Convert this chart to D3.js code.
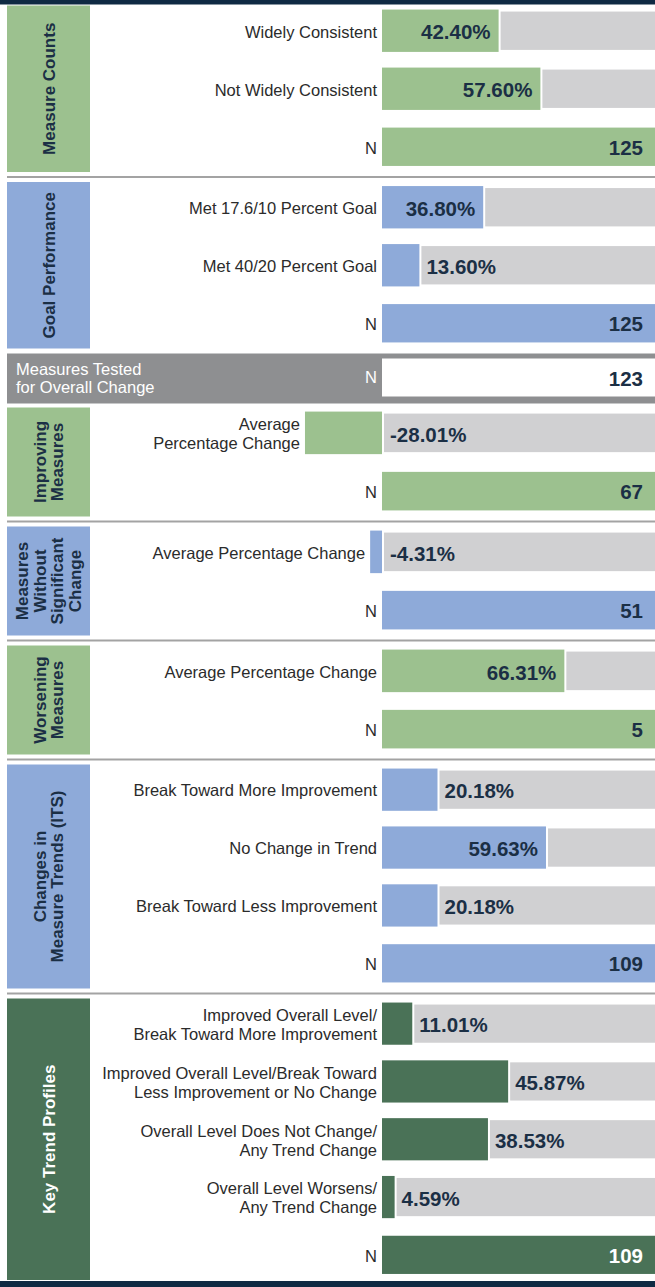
<!DOCTYPE html>
<html>
<head>
<meta charset="utf-8">
<script src="https://cdn.jsdelivr.net/npm/d3@7"></script>
<style>
  body { margin: 0; background: #fff; }
  svg { display: block; }
</style>
</head>
<body>
<div id="chart"></div>
<script>
// ---- data ----
const sectionTitles = [
  "Measure Counts",
  "Goal Performance",
  "Improving\nMeasures",
  "Measures\nWithout\nSignificant\nChange",
  "Worsening\nMeasures",
  "Changes in\nMeasure Trends (ITS)",
  "Key Trend Profiles"
];
const sectionColors = ["green", "blue", "green", "blue", "green", "blue", "dark"];

const countLabels = ["Widely Consistent", "Not Widely Consistent"];
const countValues = [42.40, 57.60];
const countN = 125;

const goalLabels = ["Met 17.6/10 Percent Goal", "Met 40/20 Percent Goal"];
const goalValues = [36.80, 13.60];
const goalN = 125;

const testedTitle = "Measures Tested\nfor Overall Change";
const testedN = 123;

const improvingLabels = ["Average\nPercentage Change"];
const improvingValues = [-28.01];
const improvingN = 67;

const noChangeLabels = ["Average Percentage Change"];
const noChangeValues = [-4.31];
const noChangeN = 51;

const worseningLabels = ["Average Percentage Change"];
const worseningValues = [66.31];
const worseningN = 5;

const trendLabels = ["Break Toward More Improvement", "No Change in Trend", "Break Toward Less Improvement"];
const trendValues = [20.18, 59.63, 20.18];
const trendN = 109;

const profileLabels = [
  "Improved Overall Level/\nBreak Toward More Improvement",
  "Improved Overall Level/Break Toward\nLess Improvement or No Change",
  "Overall Level Does Not Change/\nAny Trend Change",
  "Overall Level Worsens/\nAny Trend Change"
];
const profileValues = [11.01, 45.87, 38.53, 4.59];
const profileN = 109;

// ---- styling ----
const palette = {
  green: { fill: "#9cc18f", title: "#1b2f45", nText: "#1b2f45" },
  blue:  { fill: "#8eaad9", title: "#1b2f45", nText: "#1b2f45" },
  dark:  { fill: "#4a7257", title: "#ffffff", nText: "#ffffff" }
};
const NAVY = "#0f2a43";
const TRACK = "#d0d0d2";
const VALUE_TEXT = "#1b2f45";
const LABEL_TEXT = "#2b2b2b";
const FONT = "'Liberation Sans', Arial, Helvetica, sans-serif";

const W = 655, H = 1287;
const ROW = 57.5;
const boxHeight = n => n * ROW - 6;

const svg = d3.select("#chart").append("svg")
  .attr("width", W).attr("height", H)
  .attr("font-family", FONT);

svg.append("rect").attr("width", W).attr("height", H).attr("fill", "#fff");
svg.append("rect").attr("x", 0).attr("y", 0).attr("width", W).attr("height", 4.5).attr("fill", NAVY);
svg.append("rect").attr("x", 0).attr("y", 1281).attr("width", W).attr("height", H - 1281).attr("fill", NAVY);

const x = d3.scaleLinear().domain([0, 100]).range([382, 657]);

function multiline(sel, str, lh) {
  const lines = str.split("\n");
  lines.forEach((ln, i) => {
    sel.append("tspan")
      .attr("x", sel.attr("x"))
      .attr("dy", i === 0 ? `${-(lines.length - 1) / 2 * lh / 16.5 + 0.35}em` : `${lh / 16.5}em`)
      .text(ln);
  });
}

function drawSection(title, colorKey, labels, values, n, top) {
  const pal = palette[colorKey];
  const rows = labels.map((l, i) => ({ label: l, value: values[i] }));
  rows.push({ label: "N", n: n });
  const h = boxHeight(rows.length);
  const g = svg.append("g");

  // side title box
  g.append("rect").attr("x", 7).attr("y", top).attr("width", 83).attr("height", h).attr("fill", pal.fill);
  const tl = title.split("\n");
  const tt = g.append("text")
    .attr("transform", `translate(48.5,${top + h / 2}) rotate(-90)`)
    .attr("text-anchor", "middle")
    .attr("font-weight", "bold")
    .attr("font-size", 17)
    .attr("fill", pal.title);
  tl.forEach((ln, i) => {
    tt.append("tspan").attr("x", 0)
      .attr("y", (i - (tl.length - 1) / 2) * 17.5)
      .attr("dy", "0.36em")
      .text(ln);
  });

  const yb = d3.scaleBand().domain(d3.range(rows.length))
    .range([top, top + h]).paddingInner(0.27).paddingOuter(0.07);
  const bw = yb.bandwidth();

  rows.forEach((r, i) => {
    const y0 = yb(i);
    const cy = y0 + bw / 2;
    if (r.n !== undefined) {
      g.append("rect").attr("x", x(0)).attr("y", y0 + 2)
        .attr("width", x(100) - x(0)).attr("height", bw - 4).attr("fill", pal.fill);
      g.append("text").attr("x", 643).attr("y", cy + 1).attr("dy", "0.35em")
        .attr("text-anchor", "end").attr("font-weight", "bold").attr("font-size", 20.5)
        .attr("fill", pal.nText).text(r.n);
    } else {
      const v = r.value;
      const x0 = Math.min(x(0), x(v)), x1 = Math.max(x(0), x(v));
      const trackStart = (v < 0 ? x(0) : x(v)) + 2;
      g.append("rect").attr("x", trackStart).attr("y", y0 + 2)
        .attr("width", W - trackStart).attr("height", bw - 4).attr("fill", TRACK);
      g.append("rect").attr("x", x0).attr("y", y0)
        .attr("width", x1 - x0).attr("height", bw).attr("fill", pal.fill);
      const txt = v.toFixed(2) + "%";
      const inside = v > 0 && colorKey !== "dark" && (x(v) - x(0)) > 80;
      g.append("text")
        .attr("x", v < 0 ? x(0) + 8 : (inside ? x(v) - 8 : x(v) + 7))
        .attr("y", cy + 1.5).attr("dy", "0.35em")
        .attr("text-anchor", inside ? "end" : "start")
        .attr("font-weight", "bold").attr("font-size", 20.5)
        .attr("fill", VALUE_TEXT).text(txt);
    }
    const lt = g.append("text")
      .attr("x", Math.min(x(0), r.value !== undefined ? x(r.value) : x(0)) - 5)
      .attr("y", cy + 1)
      .attr("text-anchor", "end").attr("font-size", 16.5).attr("fill", LABEL_TEXT);
    multiline(lt, r.label, 19);
  });
  return top + h;
}

function separator(yy) {
  svg.append("rect").attr("x", 7).attr("y", yy).attr("width", W - 7).attr("height", 2).attr("fill", "#a3a3a3");
}

function drawTested(top) {
  const g = svg.append("g");
  g.append("rect").attr("x", 7).attr("y", top).attr("width", W - 7).attr("height", 50).attr("fill", "#8e8f91");
  g.append("rect").attr("x", x(0)).attr("y", top + 5).attr("width", W - x(0)).attr("height", 38).attr("fill", "#fff");
  const t = g.append("text").attr("x", 16).attr("y", top + 25).attr("font-size", 16.5).attr("fill", "#fff");
  multiline(t, testedTitle, 18);
  g.append("text").attr("x", x(0) - 5).attr("y", top + 24).attr("dy", "0.35em")
    .attr("text-anchor", "end").attr("font-size", 16.5).attr("fill", "#fff").text("N");
  g.append("text").attr("x", 643).attr("y", top + 25).attr("dy", "0.35em")
    .attr("text-anchor", "end").attr("font-weight", "bold").attr("font-size", 20.5)
    .attr("fill", VALUE_TEXT).text(testedN);
  return top + 50;
}

// ---- stack the blocks ----
const blocks = [
  [countLabels, countValues, countN],
  [goalLabels, goalValues, goalN],
  [improvingLabels, improvingValues, improvingN],
  [noChangeLabels, noChangeValues, noChangeN],
  [worseningLabels, worseningValues, worseningN],
  [trendLabels, trendValues, trendN],
  [profileLabels, profileValues, profileN]
];

let yPos = 5.5;
blocks.forEach((b, i) => {
  const end = drawSection(sectionTitles[i], sectionColors[i], b[0], b[1], b[2], yPos);
  if (i === 1) {
    yPos = drawTested(end + 5) + 4;
  } else if (i < blocks.length - 1) {
    separator(end + 4);
    yPos = end + 10;
  }
});
</script>
</body>
</html>
